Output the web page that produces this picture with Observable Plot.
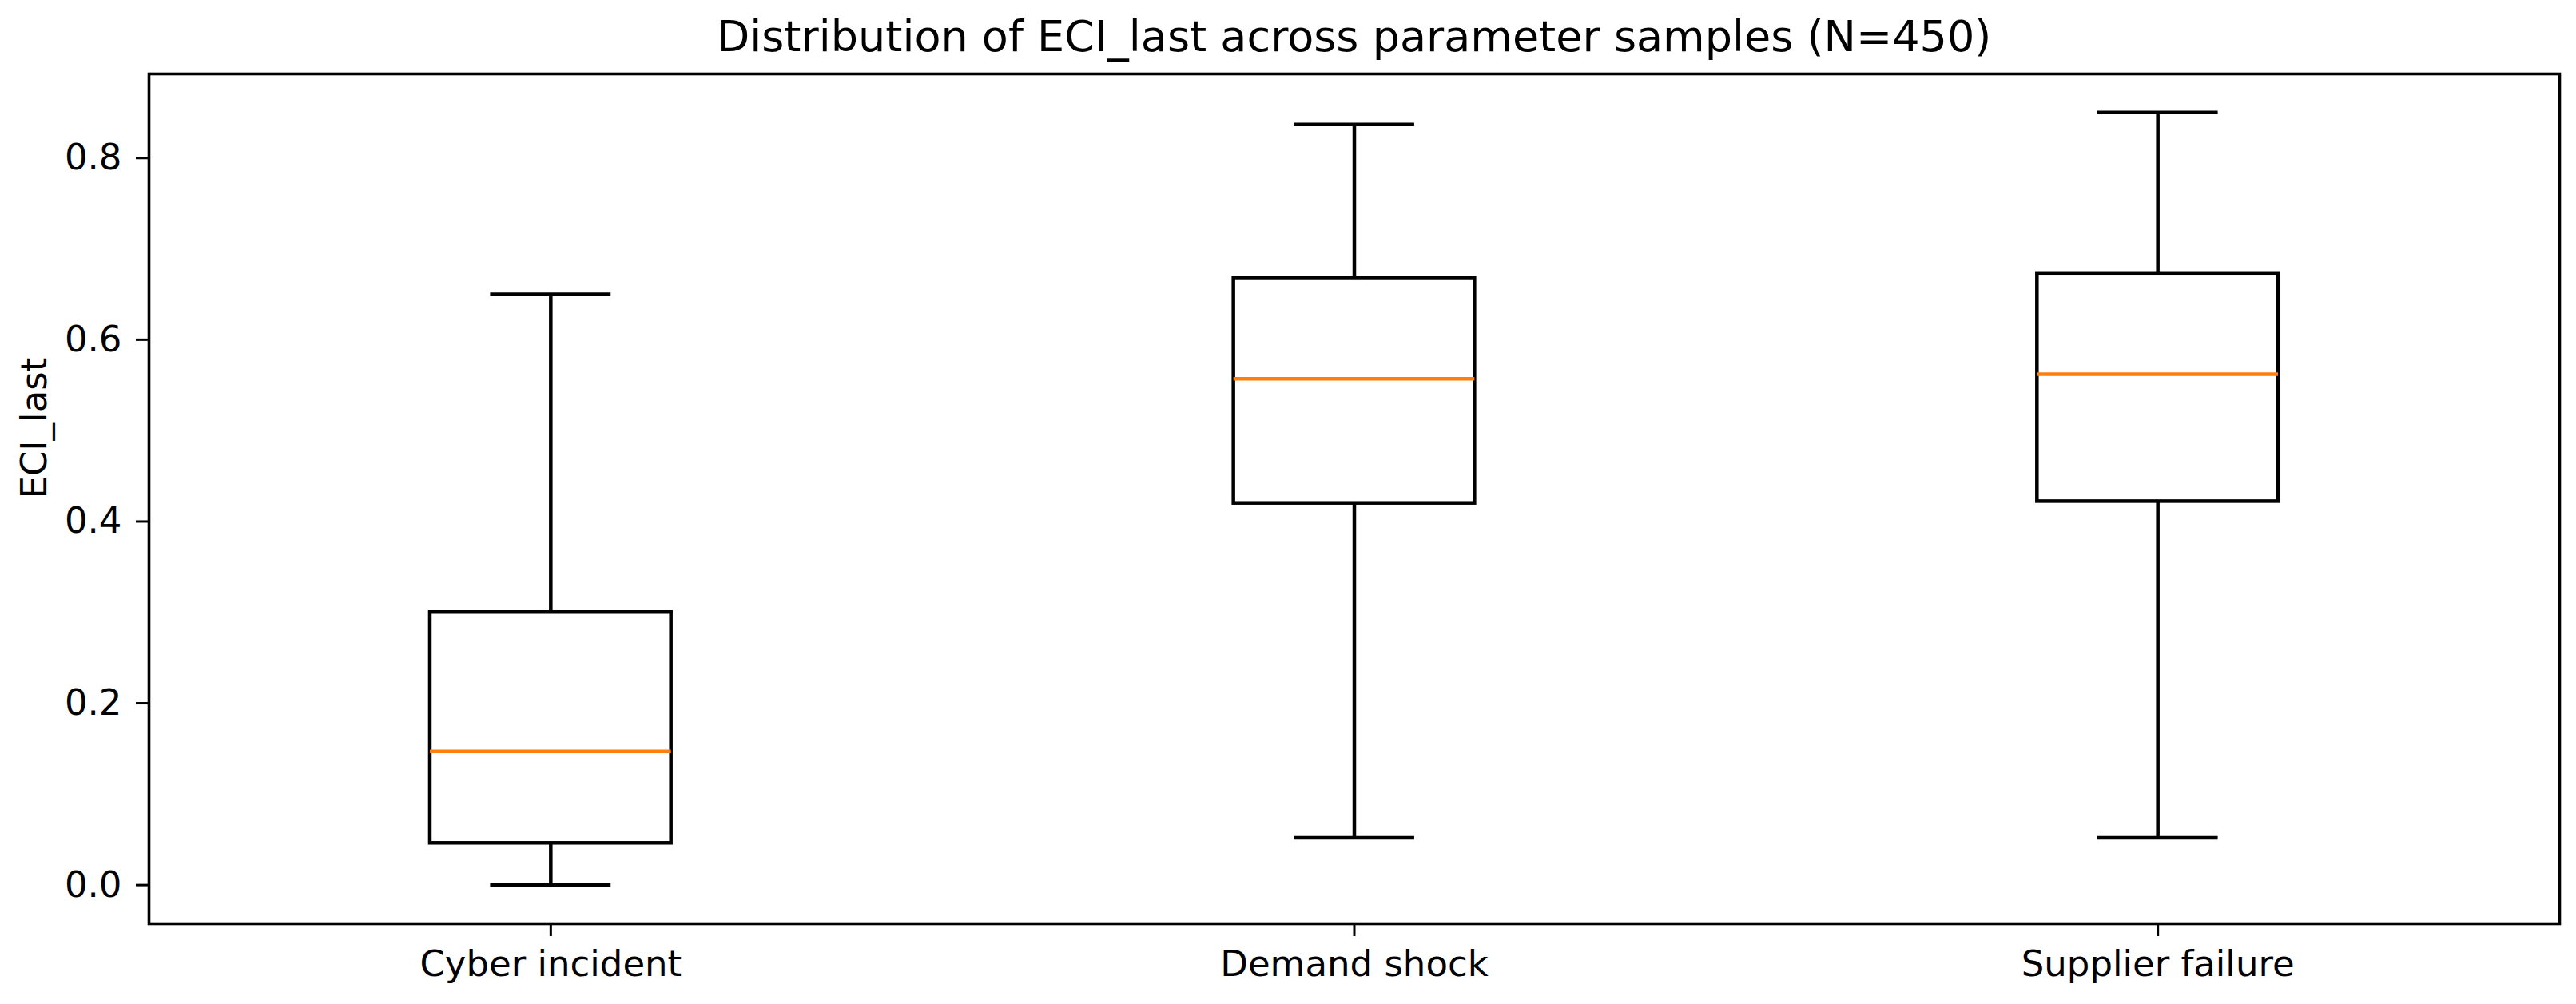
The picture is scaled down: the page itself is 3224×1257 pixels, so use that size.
<!DOCTYPE html>
<html>
<head>
<meta charset="utf-8">
<script src="https://cdn.jsdelivr.net/npm/d3@7"></script>
<script src="https://cdn.jsdelivr.net/npm/@observablehq/plot@0.6"></script>
<style>
  html, body { margin: 0; padding: 0; background: #fff; }
  #wrap { width: 3224px; height: 1257px; overflow: hidden; background: #fff; }
  #title {
    box-sizing: border-box; height: 70px; padding: 19px 21px 0 186px;
    font-family: "DejaVu Sans", sans-serif; font-size: 54px; line-height: 1;
    text-align: center; color: #000; white-space: nowrap;
  }
</style>
</head>
<body>
<div id="wrap">
  <div id="title">Distribution of ECI_last across parameter samples (N=450)</div>
  <div id="chart"></div>
</div>
<script>
const categories = ["Cyber incident", "Demand shock", "Supplier failure"];
const whiskerLow  = [0.000, 0.052, 0.052];
const q1          = [0.046, 0.420, 0.422];
const median      = [0.147, 0.557, 0.562];
const q3          = [0.300, 0.668, 0.673];
const whiskerHigh = [0.650, 0.837, 0.850];
const yTicks = [0.0, 0.2, 0.4, 0.6, 0.8];

const boxHalf = 0.15, capHalf = 0.075;
const data = categories.map((c, i) => ({
  cat: c, pos: i + 1,
  lo: whiskerLow[i], q1: q1[i], med: median[i], q3: q3[i], hi: whiskerHigh[i]
}));

const yMin = d3.min(whiskerLow), yMax = d3.max(whiskerHigh);
const pad = (yMax - yMin) * 0.05;

const chart = Plot.plot({
  width: 3224,
  height: 1187,
  marginTop: 22,
  marginBottom: 101,
  marginLeft: 186,
  marginRight: 21,
  style: { fontFamily: "DejaVu Sans, sans-serif", fontSize: "45px", background: "#fff", color: "#000" },
  x: { type: "linear", domain: [0.5, categories.length + 0.5] },
  y: { domain: [yMin - pad, yMax + pad] },
  marks: [
    Plot.axisX({
      ticks: data.map(d => d.pos),
      tickFormat: p => categories[p - 1],
      tickSize: 16, tickPadding: 18, strokeWidth: 3, fontSize: 45, label: null
    }),
    Plot.axisY({
      ticks: yTicks, tickFormat: d3.format(".1f"),
      tickSize: 16, tickPadding: 18, strokeWidth: 3, fontSize: 45, label: null
    }),
    Plot.text(["ECI_last"], {
      frameAnchor: "left", rotate: -90, dx: -129, lineAnchor: "bottom",
      fontSize: 45, fill: "#000", text: d => d
    }),
    Plot.ruleX(data, { x: "pos", y1: "q3", y2: "hi", stroke: "#000", strokeWidth: 4.5 }),
    Plot.ruleX(data, { x: "pos", y1: "lo", y2: "q1", stroke: "#000", strokeWidth: 4.5 }),
    Plot.ruleY(data, { y: "hi", x1: d => d.pos - capHalf, x2: d => d.pos + capHalf, stroke: "#000", strokeWidth: 4.5 }),
    Plot.ruleY(data, { y: "lo", x1: d => d.pos - capHalf, x2: d => d.pos + capHalf, stroke: "#000", strokeWidth: 4.5 }),
    Plot.rect(data, {
      x1: d => d.pos - boxHalf, x2: d => d.pos + boxHalf, y1: "q1", y2: "q3",
      fill: "none", stroke: "#000", strokeWidth: 4.5
    }),
    Plot.ruleY(data, { y: "med", x1: d => d.pos - boxHalf, x2: d => d.pos + boxHalf, stroke: "#ff7f0e", strokeWidth: 4.5 }),
    Plot.frame({ stroke: "#000", strokeWidth: 3.6 })
  ]
});
document.getElementById("chart").appendChild(chart);
</script>
</body>
</html>
